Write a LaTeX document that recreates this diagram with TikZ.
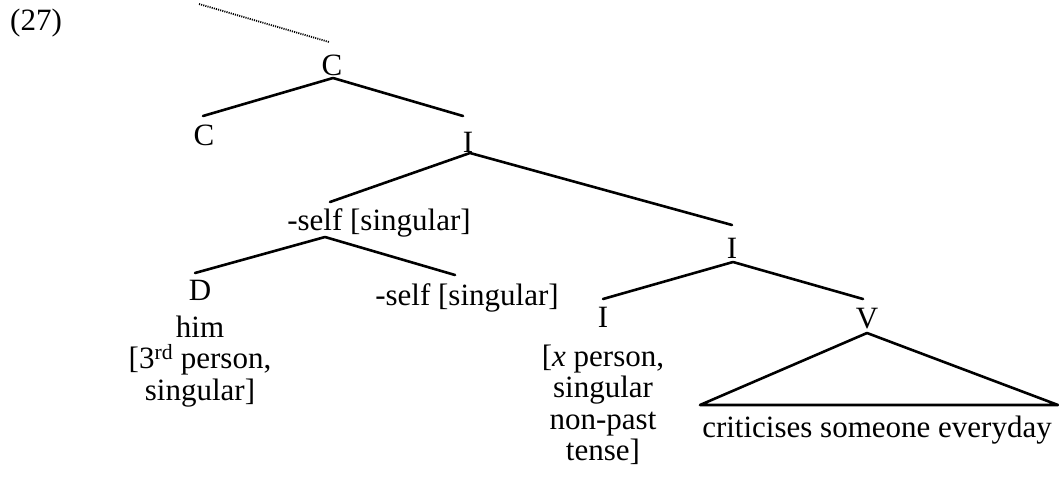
\documentclass[tikz,border=0pt]{standalone}
\usepackage{fontspec}
\setmainfont{Liberation Serif}
\usetikzlibrary{calc}
\begin{document}
\begin{tikzpicture}[x=1pt,y=-1pt,
  lbl/.style={inner sep=0pt,anchor=base,font=\fontsize{31}{31.5}\selectfont},
  branch/.style={line width=2.6pt,line cap=round,line join=round},
  dotline/.style={line width=1.8pt,dash pattern=on 1.1pt off 1.1pt}]
\useasboundingbox (0,0) rectangle (1059,479);
\fill[white] (0,0) rectangle (1059,479);
% labels
\node[lbl,anchor=base west] (ex) at (10,30) {(27)};
\node[lbl] (C0) at (332,75) {C};
\node[lbl] (C1) at (204,145) {C};
\node[lbl] (I1) at (468,152) {I};
\node[lbl] (S1) at (379,230) {-self [singular]};
\node[lbl] (D) at (200,300) {D};
\node[lbl] (Da) at (200,337) {him};
\node[lbl] (Db) at (200,368.5) {[3\textsuperscript{rd} person,};
\node[lbl] (Dc) at (200,400) {singular]};
\node[lbl] (S2) at (467,305) {-self [singular]};
\node[lbl] (I2) at (732,258) {I};
\node[lbl] (I3) at (603,327) {I};
\node[lbl] (Ia) at (603,366) {[\textit{x} person,};
\node[lbl] (Ib) at (603,397.5) {singular};
\node[lbl] (Ic) at (603,429) {non-past};
\node[lbl] (Id) at (603,460.5) {tense]};
\node[lbl] (V) at (867,328) {V};
\node[lbl] (VP) at (877,437) {criticises someone everyday};
% connectors
\coordinate (up) at (199,4);
\draw[dotline] (up) -- ($(C0.base)+(-3,-33)$);
\draw[branch] ($(C1.base)+(-1,-29)$) -- ($(C0.base)+(1,3)$) -- ($(I1.base)+(-5,-36)$);
\draw[branch] ($(S1.base)+(-49,-28)$) -- ($(I1.base)+(2,1)$) -- ($(I2.base)+(0,-33)$);
\draw[branch] ($(D.base)+(-5,-27)$) -- ($(S1.base)+(-54,7)$) -- ($(S2.base)+(-12,-30)$);
\draw[branch] ($(I3.base)+(0,-28)$) -- ($(I2.base)+(1,4)$) -- ($(V.base)+(-4,-29)$);
\draw[branch] ($(V.base)+(0,5)$) -- ($(VP.base)+(-177,-32)$) -- ($(VP.base)+(181,-32)$) -- cycle;
\end{tikzpicture}
\end{document}
